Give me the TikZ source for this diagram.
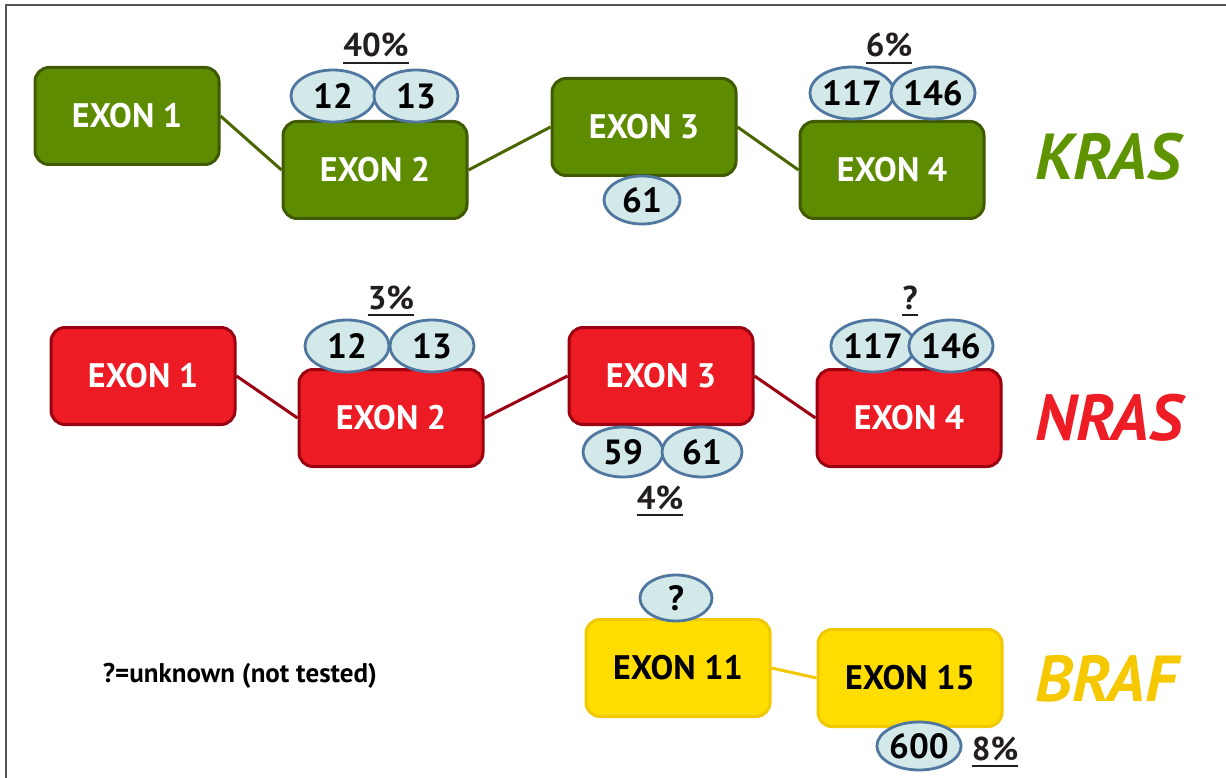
\documentclass[tikz,border=0pt]{standalone}
\usepackage{fontspec}
\setmainfont{PT Sans}
\usetikzlibrary{shapes.geometric}
\definecolor{kfill}{HTML}{5E8C00}
\definecolor{kdraw}{HTML}{3F5A00}
\definecolor{kline}{HTML}{4A6600}
\definecolor{ktext}{HTML}{5E9400}
\definecolor{nfill}{HTML}{ED1C24}
\definecolor{ndraw}{HTML}{9A0010}
\definecolor{ntext}{HTML}{EE1C25}
\definecolor{bfill}{HTML}{FFDD00}
\definecolor{bdraw}{HTML}{F2C800}
\definecolor{btext}{HTML}{F5C800}
\definecolor{efill}{HTML}{D3E9E9}
\definecolor{edraw}{HTML}{4F77A0}
\definecolor{pctc}{HTML}{231F20}
\definecolor{framec}{HTML}{555555}
\tikzset{
  exonbox/.style={rounded corners=14pt, line width=3pt, minimum width=184pt, minimum height=97pt,
    font=\fontsize{34}{36}\selectfont\bfseries, inner sep=0pt},
  kex/.style={exonbox, fill=kfill, draw=kdraw, text=white},
  nex/.style={exonbox, fill=nfill, draw=ndraw, text=white},
  bex/.style={exonbox, fill=bfill, draw=bdraw, text=black},
  codon/.style={ellipse, fill=efill, draw=edraw, line width=2.8pt, minimum width=84pt, minimum height=52pt,
    inner sep=0pt, font=\fontsize{35}{36}\selectfont\bfseries, text=black},
  scodon/.style={codon, minimum width=76pt, minimum height=48pt},
  pct/.style={inner sep=0pt, font=\fontsize{33}{36}\selectfont\bfseries, text=pctc},
  uline/.style={draw=pctc, line width=2pt},
  conn/.style={line width=3pt},
  gene/.style={anchor=west, inner sep=0pt, font=\fontsize{65}{70}\selectfont\bfseries\itshape},
}
\begin{document}
\begin{tikzpicture}[x=1pt,y=-1pt]
\useasboundingbox (0,0) rectangle (1226,778);
\fill[white] (0,0) rectangle (1226,778);
\coordinate (fa) at (6,778);
\coordinate (fb) at (6,5);
\coordinate (fc) at (1226,5);
\draw[framec, line width=2pt] (fa) -- (fb) -- (fc);

% KRAS
\node[kex] (k1) at (127,116) {EXON 1};
\node[kex] (k2) at (375,170) {EXON 2};
\node[kex] (k3) at (644,127) {EXON 3};
\node[kex] (k4) at (892,170) {EXON 4};
\draw[conn, kline] (k1.east) -- (k2.west);
\draw[conn, kline] (k2.east) -- (k3.west);
\draw[conn, kline] (k3.east) -- (k4.west);
\node[codon] (k12) at (333,96) {12};
\node[codon] (k13) at (416,96) {13};
\node[scodon] (k61) at (642,200) {61};
\node[codon] (k117) at (852,93) {117};
\node[codon] (k146) at (933,93) {146};
\node[pct, anchor=base] (kp2) at (376,57) {40\%};
\draw[uline] ([yshift=-6pt]kp2.base west) -- ([yshift=-6pt]kp2.base east);
\node[pct, anchor=base] (kp4) at (889,57) {6\%};
\draw[uline] ([yshift=-6pt]kp4.base west) -- ([yshift=-6pt]kp4.base east);
\node[gene, text=ktext] (kras) at (1035,157) {KRAS};

% NRAS
\node[nex] (n1) at (143,376) {EXON 1};
\node[nex] (n2) at (391,418) {EXON 2};
\node[nex] (n3) at (661,376) {EXON 3};
\node[nex] (n4) at (909,418) {EXON 4};
\draw[conn, ndraw] (n1.east) -- (n2.west);
\draw[conn, ndraw] (n2.east) -- (n3.west);
\draw[conn, ndraw] (n3.east) -- (n4.west);
\node[codon] (n12) at (347,346) {12};
\node[codon] (n13) at (432,346) {13};
\node[scodon, minimum width=80pt, minimum height=50pt] (n59) at (623,452) {59};
\node[scodon, minimum width=80pt, minimum height=50pt] (n61) at (702,452) {61};
\node[scodon, minimum width=78pt, minimum height=52pt] (n117) at (873,346) {117};
\node[scodon, minimum width=78pt, minimum height=52pt] (n146) at (951,346) {146};
\node[pct, anchor=base] (np2) at (391,309) {3\%};
\draw[uline] ([yshift=-6pt]np2.base west) -- ([yshift=-6pt]np2.base east);
\node[pct, anchor=base] (np3) at (660,509) {4\%};
\draw[uline] ([yshift=-6pt]np3.base west) -- ([yshift=-6pt]np3.base east);
\node[pct, anchor=base] (np4) at (910,309) {?};
\draw[uline] ([yshift=-6pt]np4.base west) -- ([yshift=-6pt]np4.base east);
\node[gene, text=ntext] (nras) at (1035,418) {NRAS};

% BRAF
\node[bex] (b11) at (678,668) {EXON 11};
\node[bex] (b15) at (910,678) {EXON 15};
\draw[conn, bdraw] (b11.east) -- (b15.west);
\node[scodon, minimum width=72pt, minimum height=46pt] (bq) at (676,598) {?};
\node[scodon, minimum width=76pt, minimum height=48pt] (b600) at (919,746) {600};
\node[pct, anchor=base] (bp) at (995,760) {8\%};
\draw[uline] ([yshift=-6pt]bp.base west) -- ([yshift=-6pt]bp.base east);
\node[gene, text=btext] (braf) at (1035,679) {BRAF};

\node[font=\fontsize{27}{30}\selectfont\bfseries, text=black] (legend) at (240,676) {?=unknown (not tested)};
\end{tikzpicture}
\end{document}
